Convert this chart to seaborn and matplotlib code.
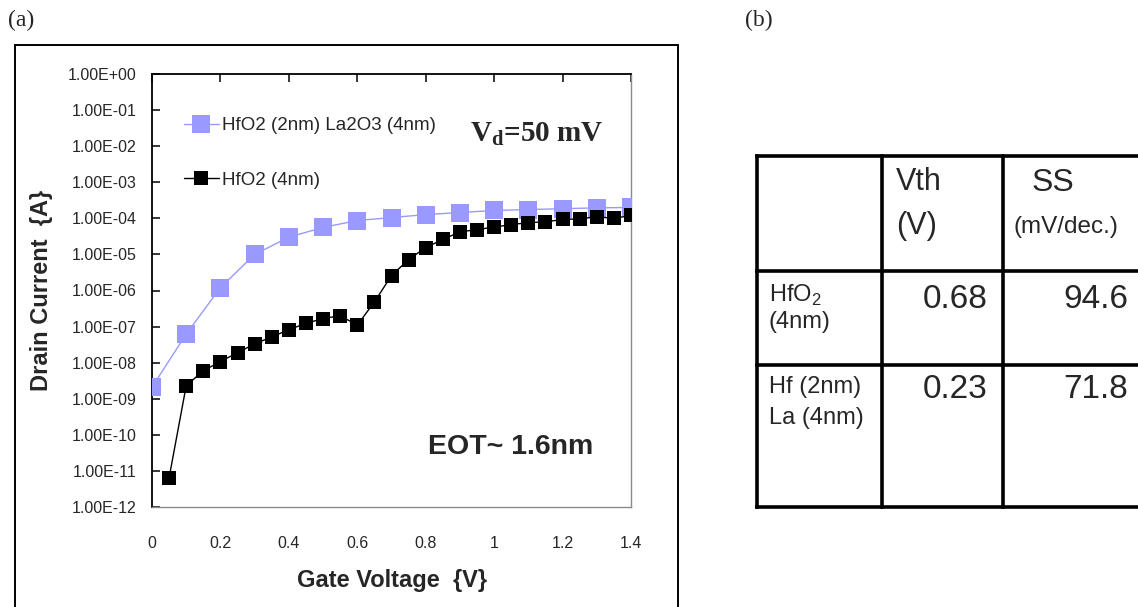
import numpy as np
import pandas as pd
import matplotlib
matplotlib.use("Agg")
import matplotlib.pyplot as plt
import seaborn as sns
from matplotlib.ticker import FixedLocator, FixedFormatter, NullLocator

# ---------------- data ----------------
vg_la = [0.0, 0.1, 0.2, 0.3, 0.4, 0.5, 0.6, 0.7, 0.8, 0.9, 1.0, 1.1, 1.2, 1.3, 1.4]
id_la = [2.1e-9, 6.2e-8, 1.2e-6, 1.0e-5, 3.0e-5, 5.6e-5, 8.7e-5, 1.05e-4, 1.27e-4,
         1.45e-4, 1.65e-4, 1.75e-4, 1.85e-4, 1.95e-4, 2.0e-4]

vg_hf = [0.05, 0.10, 0.15, 0.20, 0.25, 0.30, 0.35, 0.40, 0.45, 0.50, 0.55, 0.60, 0.65, 0.70,
         0.75, 0.80, 0.85, 0.90, 0.95, 1.00, 1.05, 1.10, 1.15, 1.20, 1.25, 1.30, 1.35, 1.40]
id_hf = [6.5e-12, 2.3e-9, 6.0e-9, 1.07e-8, 1.9e-8, 3.3e-8, 5.2e-8, 8.2e-8, 1.23e-7, 1.67e-7,
         2.0e-7, 1.1e-7, 4.8e-7, 2.6e-6, 7.2e-6, 1.55e-5, 2.6e-5, 4.2e-5, 4.9e-5, 5.7e-5,
         6.7e-5, 7.6e-5, 8.0e-5, 9.3e-5, 9.7e-5, 1.1e-4, 1.0e-4, 1.2e-4]

label_la = "HfO2 (2nm) La2O3 (4nm)"
label_hf = "HfO2 (4nm)"

x_ticks = [0, 0.2, 0.4, 0.6, 0.8, 1.0, 1.2, 1.4]
x_ticklabels = ["0", "0.2", "0.4", "0.6", "0.8", "1", "1.2", "1.4"]
y_exps = list(range(0, -13, -1))
y_ticklabels = ["1.00E+00", "1.00E-01", "1.00E-02", "1.00E-03", "1.00E-04", "1.00E-05",
                "1.00E-06", "1.00E-07", "1.00E-08", "1.00E-09", "1.00E-10", "1.00E-11",
                "1.00E-12"]

table_header_vth = ["Vth", "(V)"]
table_header_ss = ["SS", "(mV/dec.)"]
table_rows = [["HfO$_\\mathrm{2}$", "(4nm)"], ["Hf (2nm)", "La (4nm)"]]
table_vth = ["0.68", "0.23"]
table_ss = ["94.6", "71.8"]

# ---------------- style ----------------
sns.set_style("white")
plt.rcParams["font.family"] = ["Liberation Sans", "DejaVu Sans"]
plt.rcParams["mathtext.fontset"] = "custom"
plt.rcParams["mathtext.rm"] = "Liberation Sans"
plt.rcParams["mathtext.bf"] = "Liberation Serif:bold"

W, H = 1138, 607
fig = plt.figure(figsize=(W / 100, H / 100), dpi=100)
fig.patch.set_facecolor("white")

# overlay in pixel coords for frame / table / panel letters
ov = fig.add_axes([0, 0, 1, 1], zorder=0)
ov.set_xlim(0, W)
ov.set_ylim(H, 0)
ov.axis("off")

ax = fig.add_axes([152 / W, 1 - 507 / H, (631 - 152) / W, (507 - 74) / H], zorder=2)

df_la = pd.DataFrame({"Vg": vg_la, "Id": id_la})
df_hf = pd.DataFrame({"Vg": vg_hf, "Id": id_hf})

sns.lineplot(data=df_la, x="Vg", y="Id", ax=ax, color="#9999FF", linewidth=1.0,
             marker="s", markersize=13.5, markeredgewidth=0, markerfacecolor="#9999FF",
             label=label_la, zorder=3)
sns.lineplot(data=df_hf, x="Vg", y="Id", ax=ax, color="black", linewidth=1.0,
             marker="s", markersize=9.5, markeredgewidth=0, markerfacecolor="black",
             label=label_hf, zorder=4)

ax.set_yscale("log")
ax.set_xlim(0, 1.4)
ax.set_ylim(1e-12, 1)
ax.xaxis.set_major_locator(FixedLocator(x_ticks))
ax.xaxis.set_major_formatter(FixedFormatter(x_ticklabels))
ax.yaxis.set_major_locator(FixedLocator([10.0 ** e for e in y_exps]))
ax.yaxis.set_major_formatter(FixedFormatter(y_ticklabels))
ax.yaxis.set_minor_locator(NullLocator())
ax.xaxis.set_minor_locator(NullLocator())

ax.tick_params(axis="x", direction="in", top=True, bottom=False, labelbottom=True,
               length=6, width=1.1, color="black", pad=21, labelsize=11.5)
ax.tick_params(axis="y", direction="in", left=True, right=False, length=6, width=1.1,
               color="black", pad=11, labelsize=11.5)

for s in ["left", "top"]:
    ax.spines[s].set_color("black")
    ax.spines[s].set_linewidth(1.3)
for s in ["right", "bottom"]:
    ax.spines[s].set_color("#8a8a8a")
    ax.spines[s].set_linewidth(1.0)

ax.set_xlabel("Gate Voltage  {V}", fontsize=17, fontweight="bold", labelpad=13)
ax.set_ylabel("Drain Current  {A}", fontsize=17, fontweight="bold", labelpad=11)

leg = ax.legend(loc="upper left", bbox_to_anchor=((184 - 152) / 479, (507 - 117) / 433),
                frameon=False, handlelength=1.85, handletextpad=0.16,
                labelspacing=2.0, borderpad=0, borderaxespad=0,
                prop={"family": "Liberation Sans", "size": 13.5})

ax.text(0.663, 0.862, r"$\mathbf{V}_\mathbf{d}$=50 mV", transform=ax.transAxes,
        fontsize=21, fontweight="bold", family="Liberation Serif", va="center", ha="left")
ax.text(0.576, 0.138, "EOT~ 1.6nm", transform=ax.transAxes, fontsize=20.5,
        fontweight="bold", va="center", ha="left")

# outer frame of panel (a)
ov.plot([15, 15, 678, 678], [H + 5, 45, 45, H + 5], color="black", lw=1.4,
        solid_joinstyle="miter")

# panel letters
ov.text(8, 20, "(a)", fontsize=17, family="Liberation Serif", va="center", ha="left")
ov.text(745, 20, "(b)", fontsize=17, family="Liberation Serif", va="center", ha="left")

# table
tlw = 2.6
for yy in [156, 271, 365, 507]:
    ov.plot([757, W + 5], [yy, yy], color="black", lw=tlw, solid_capstyle="projecting")
for xx in [757, 882, 1003]:
    ov.plot([xx, xx], [156, 507], color="black", lw=tlw, solid_capstyle="projecting")

ov.text(896, 182, table_header_vth[0], fontsize=22, va="center", ha="left")
ov.text(896, 226, table_header_vth[1], fontsize=22, va="center", ha="left")
ov.text(1032, 183, table_header_ss[0], fontsize=23, va="center", ha="left")
ov.text(1014, 227, table_header_ss[1], fontsize=17.5, va="center", ha="left")

row_y = [(295, 322, 300), (387, 418, 390)]
for lab, vth, ss, (y1, y2, yv) in zip(table_rows, table_vth, table_ss, row_y):
    ov.text(769, y1, lab[0], fontsize=17, va="center", ha="left")
    ov.text(769, y2, lab[1], fontsize=17, va="center", ha="left")
    ov.text(988, yv, vth, fontsize=24, va="center", ha="right")
    ov.text(1128, yv, ss, fontsize=24, va="center", ha="right")

fig.savefig("out.png", dpi=100)
